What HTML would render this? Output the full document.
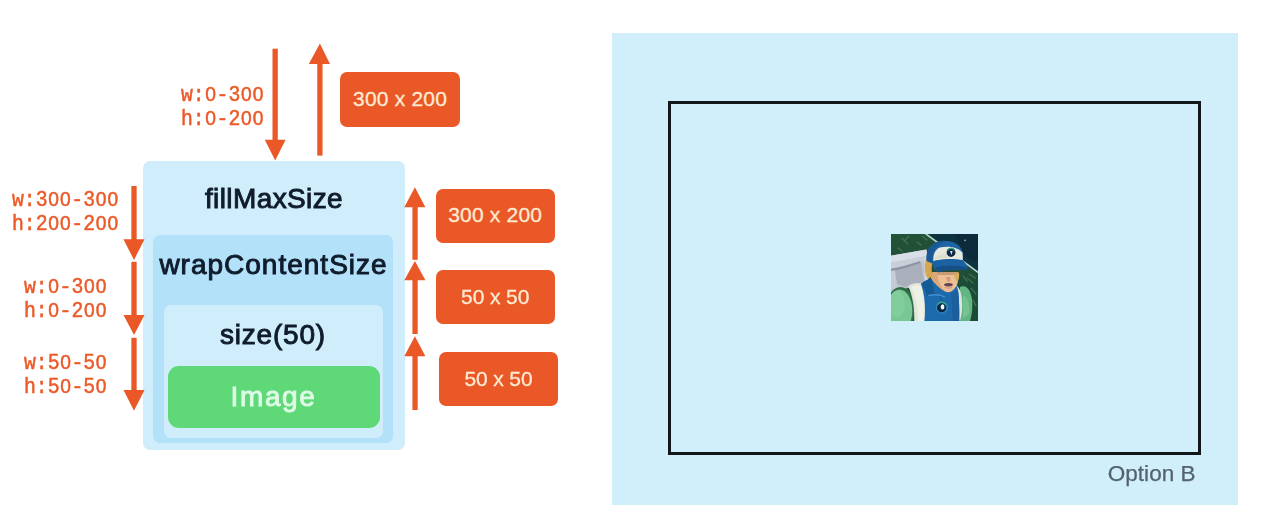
<!DOCTYPE html>
<html>
<head>
<meta charset="utf-8">
<style>
  html, body { margin: 0; padding: 0; }
  body { width: 1268px; height: 524px; background: #ffffff; position: relative; overflow: hidden;
         font-family: "Liberation Sans", sans-serif; }
  .abs { position: absolute; }
  .box { position: absolute; box-sizing: border-box; }
  .mono { position: absolute; font-family: "Liberation Mono", monospace; font-size: 21.5px; line-height: 24.3px;
          color: #ec5a29; white-space: pre; text-align: left; -webkit-text-stroke: 0.5px #ec5a29;
          transform: scaleX(0.92); transform-origin: 0 0; }
  .z { font-family: "Liberation Sans", sans-serif; display: inline-block; width: 12.9px; font-size: 20.9px; line-height: 1; text-align: center; vertical-align: baseline; }
  .lbl { position: absolute; font-family: "Liberation Sans", sans-serif; color: #101c2c; font-weight: normal; -webkit-text-stroke: 0.95px #101c2c;
         white-space: nowrap; text-align: center; }
  .obox { position: absolute; background: #ea5827; border-radius: 7px; color: #fdebd2;
          font-family: "Liberation Sans", sans-serif; font-size: 21px; letter-spacing: 0.2px; text-align: center; white-space: nowrap; -webkit-text-stroke: 0.3px #fdebd2; }
  svg { position: absolute; left: 0; top: 0; }
</style>
</head>
<body>
<div id="stage" style="position:absolute; left:0; top:0; width:1268px; height:524px; filter: blur(0.45px);">

<!-- ===== right panel ===== -->
<div class="box" id="panel" style="left:612.4px; top:33.3px; width:625.6px; height:471.6px; background:#d0effb;"></div>
<div class="box" id="frame" style="left:668px; top:101px; width:532.6px; height:354px; border:3.2px solid #14171a;"></div>
<div class="abs" id="optb" style="left:1107.7px; top:461px; width:92px; font-size:22.5px; letter-spacing:0.05px; line-height:26px; color:#53626e; -webkit-text-stroke:0.25px #53626e; white-space:nowrap;">Option B</div>

<!-- ===== nested boxes ===== -->
<div class="box" id="b1" style="left:142.8px; top:160.7px; width:261.8px; height:289px; background:#d0edfb; border-radius:7px;"></div>
<div class="box" id="b2" style="left:153.2px; top:235px; width:239.8px; height:208px; background:#b3e1f9; border-radius:7px;"></div>
<div class="box" id="b3" style="left:163.7px; top:305px; width:219.3px; height:133px; background:#d0edfb; border-radius:7px;"></div>
<div class="box" id="b4" style="left:167.6px; top:366px; width:212.4px; height:62px; background:#5fd878; border-radius:11px;"></div>

<div class="lbl" id="t1" style="left:143px; top:183px; width:262px; font-size:28px; letter-spacing:0.4px; line-height:32px;">fillMaxSize</div>
<div class="lbl" id="t2" style="left:153px; top:249px; width:241px; font-size:28px; letter-spacing:1.0px; line-height:32px;">wrapContentSize</div>
<div class="lbl" id="t3" style="left:163px; top:319px; width:220px; font-size:28px; letter-spacing:0.8px; line-height:32px;">size(50)</div>
<div class="lbl" id="t4" style="left:167px; top:381px; width:213px; font-size:28px; line-height:32px; color:#ddfbe6; font-weight:normal; -webkit-text-stroke:0.9px #ddfbe6; letter-spacing:1.6px;">Image</div>

<!-- ===== constraint labels ===== -->
<div class="mono" id="m1" style="left:180.5px; top:82.6px;">w:<span class="z">0</span>-3<span class="z">0</span><span class="z">0</span>
h:<span class="z">0</span>-2<span class="z">0</span><span class="z">0</span></div>
<div class="mono" id="m2" style="left:12.2px; top:187.8px;">w:3<span class="z">0</span><span class="z">0</span>-3<span class="z">0</span><span class="z">0</span>
h:2<span class="z">0</span><span class="z">0</span>-2<span class="z">0</span><span class="z">0</span></div>
<div class="mono" id="m3" style="left:24.3px; top:275.1px;">w:<span class="z">0</span>-3<span class="z">0</span><span class="z">0</span>
h:<span class="z">0</span>-2<span class="z">0</span><span class="z">0</span></div>
<div class="mono" id="m4" style="left:24.3px; top:350.9px;">w:5<span class="z">0</span>-5<span class="z">0</span>
h:5<span class="z">0</span>-5<span class="z">0</span></div>

<!-- ===== orange size boxes ===== -->
<div class="obox" id="o1" style="left:340.3px; top:72.3px; width:119.6px; height:54.4px; line-height:53.4px;">300 x 200</div>
<div class="obox" id="o2" style="left:435.5px; top:188.5px; width:119.4px; height:54.2px; line-height:52.6px;">300 x 200</div>
<div class="obox" id="o3" style="left:435.7px; top:270px; width:119px; height:54px; line-height:53.4px; letter-spacing:0; word-spacing:-0.3px;">50 x 50</div>
<div class="obox" id="o4" style="left:439px; top:351.7px; width:119.2px; height:54.2px; line-height:53px; letter-spacing:0; word-spacing:-0.3px;">50 x 50</div>

<!-- ===== arrows ===== -->
<svg id="arrows" width="1268" height="524" viewBox="0 0 1268 524">
  <g fill="#ea5827" stroke="none">
    <!-- top down arrow -->
    <rect x="272.50" y="48.7" width="5.3" height="93"/>
    <polygon points="264.8,139.8 285.6,139.8 275.2,160.6"/>
    <!-- top up arrow -->
    <rect x="317.25" y="62" width="5.3" height="93.6"/>
    <polygon points="308.8,64.1 330,64.1 319.9,43.6"/>
    <!-- left down arrows -->
    <rect x="131.35" y="186" width="5.3" height="55"/>
    <polygon points="123.4,239.3 144.5,239.3 134,259.9"/>
    <rect x="131.35" y="261.8" width="5.3" height="55"/>
    <polygon points="123.5,315 144.5,315 134,334.9"/>
    <rect x="131.35" y="337.8" width="5.3" height="54"/>
    <polygon points="123.5,389.9 144.5,389.9 134,410.7"/>
    <!-- right up arrows -->
    <rect x="412.40" y="205" width="5.3" height="54.8"/>
    <polygon points="404.3,207.2 425.4,207.2 414.9,187.3"/>
    <rect x="412.40" y="278" width="5.3" height="56"/>
    <polygon points="404.3,280.3 425.4,280.3 414.9,261"/>
    <rect x="412.40" y="354" width="5.3" height="56"/>
    <polygon points="404.3,356.2 425.4,356.2 414.9,336.3"/>
  </g>
</svg>

<!-- ===== avatar image ===== -->
<svg id="avatar" style="left:890.7px; top:233.7px;" width="87.7" height="87.8" viewBox="0 0 87.6 87.6">
  <defs>
    <filter id="bl" x="-5%" y="-5%" width="110%" height="110%"><feGaussianBlur stdDeviation="0.65"/></filter>
    <clipPath id="cp"><rect x="0" y="0" width="87.6" height="87.6"/></clipPath>
    <linearGradient id="gbg" x1="0" y1="0" x2="1" y2="1">
      <stop offset="0" stop-color="#245238"/><stop offset="1" stop-color="#1d4a36"/>
    </linearGradient>
  </defs>
  <rect width="87.6" height="87.6" fill="#1f4d38"/>
  <g clip-path="url(#cp)">
  <g filter="url(#bl)">
    <!-- background -->
    <rect x="-2" y="-2" width="92" height="92" fill="url(#gbg)"/>
    <polygon points="35,-2 90,-2 90,40" fill="#0d3340"/>
    <polygon points="62,-2 90,-2 90,30 74,22" fill="#0b2c3b"/>
    <!-- texture on green -->
    <g stroke="#5d8f68" stroke-width="1.2" opacity="0.55" stroke-linecap="round">
      <line x1="11" y1="4" x2="17" y2="10"/><line x1="18" y1="2" x2="13" y2="7"/>
      <line x1="7" y1="14" x2="11" y2="17"/><line x1="26" y1="8" x2="30" y2="11"/>
      <line x1="31" y1="2" x2="36" y2="6"/>
      <line x1="76" y1="44" x2="82" y2="49"/><line x1="80" y1="54" x2="85" y2="60"/>
      <line x1="72" y1="42" x2="76" y2="47"/><line x1="82" y1="66" x2="85" y2="72"/>
      <line x1="78" y1="40" x2="84" y2="44"/>
    </g>
    <!-- diagonal light streak -->
    <line x1="33" y1="-1.5" x2="90" y2="40.5" stroke="#b9d6d0" stroke-width="1.5"/>
    <circle cx="74" cy="6.3" r="0.9" fill="#8fb4b4"/>
    <!-- gray pack -->
    <polygon points="-2,21.8 35.4,15.4 38,30 36.5,50 20,53 -2,60" fill="#bdc3cd"/>
    <polygon points="-2,21.8 35.4,15.4 36,22 -2,29" fill="#d9dee7"/>
    <polygon points="-2,29 36,22 36.2,26 28.7,27.5 -2,35.5" fill="#c9cfd9"/>
    <path d="M3,37 C12,34 22,31 30,28.5 L33,48 L14,53 L6,50 Z" fill="#a9b0bb"/>
    <path d="M-2,35 C10,33.5 20,30 29,27 L29.4,28.8 C20,32 10,35.6 -2,37.4 Z" fill="#8c95a1"/>
    <polygon points="-2,37 4,36.5 6,52 -2,57" fill="#c6ccd6"/>
    <polygon points="33,24 36.4,23.5 37.2,46 34,47.5" fill="#d2d7e0"/>
    <!-- left sleeve -->
    <ellipse cx="9.5" cy="75" rx="14.5" ry="22" fill="#2f6d49"/>
    <ellipse cx="8.5" cy="76.5" rx="12.8" ry="21" fill="#79c893"/>
    <ellipse cx="6" cy="70" rx="8" ry="13" fill="#86d09e" opacity="0.7"/>
    <!-- fur collar left -->
    <path d="M17,52 C23,48 30,48 33,52 C35,62 35,76 34.5,90 L23,90 C24,76 22,62 17,52 Z" fill="#e1e6d9"/>
    <path d="M20,53 C25,51 29,51 31,53 C33,62 33,76 32.5,90 L27,90 C27.5,76 25,62 20,53 Z" fill="#eef1e6"/>
    <!-- right green sleeve & stripe -->
    <path d="M69,53 C75,50 80,56 81,66 C82,76 80,84 78,90 L66,90 Z" fill="#64b583"/>
    <path d="M72,62 C76,62 79,70 78,80 L72,84 Z" fill="#7bc796" opacity="0.8"/>
    <path d="M63.5,50 C68,52 70.5,58 71,68 C71.4,76 70.5,82 69,86 L66,86 C67.5,80 68,74 67.5,67 C67,59 65.5,54 62,51 Z" fill="#dbe8e2"/>
    <!-- blue vest -->
    <path d="M30,50 C33,47 37,45 40,45 L66,52 C68,60 68.5,72 68,90 L33,90 C35,76 34,62 30,50 Z" fill="#1f69ab"/>
    <path d="M30,50 C33,47 37,45 40,45 L44,60 L36,62 C35,57 33,53 30,50 Z" fill="#185a93"/>
    <path d="M60,60 L67,56 C68,66 68.5,76 68,90 L62,90 Z" fill="#1a5f9d"/>
    <path d="M37,61.5 C43,60 50,61 54,63" stroke="#3f8fd0" stroke-width="1.5" fill="none"/>
    <path d="M49,62 L52,68" stroke="#185a93" stroke-width="1.2" fill="none"/>
    <!-- badge -->
    <circle cx="50.9" cy="73.3" r="6.2" fill="#2a86b8"/>
    <circle cx="50.6" cy="73.6" r="4.6" fill="#0f2745"/>
    <ellipse cx="51.5" cy="72.8" rx="1.9" ry="2.6" fill="#eef5f0"/>
    <path d="M46.5,70.5 A5,5 0 0 1 55,70.5" stroke="#39a08f" stroke-width="1.4" fill="none"/>
    <!-- neck / face -->
    <path d="M41,38 L67,38 C68,44 67,50 64,54 C61,58 57,59 54,57.5 C48,54 43,49 40,44 Z" fill="#edbf96"/>
    <path d="M41,38 L47,38 C46,44 48,51 54,57 C48,54 43,49 40,44 Z" fill="#dca777"/>
    <path d="M55,43 L59,43 L59.5,47.5 L56,47.5 Z" fill="#d79b78"/>
    <ellipse cx="57.4" cy="50.6" rx="4.3" ry="1.7" fill="#5e4250"/>
    <path d="M53.5,52.5 C56,53.8 59,53.8 61.5,52.3 L61,54 C58.5,55 56,55 54,54 Z" fill="#d9958a"/>
    <!-- eyes shadow under brim -->
    <path d="M46,38 L68,38 L67,41 L47,41 Z" fill="#b98b62" opacity="0.7"/>
    <!-- hair -->
    <path d="M35,25 C33,32 33.5,40 37,45 L41.5,42 C40,37 40.5,31 42,27 Z" fill="#d7a64d"/>
    <path d="M62.5,40 L68,39 C68.5,43 67.5,46 66,48 C65,46 63.5,43 62.5,40 Z" fill="#d9ae58"/>
    <!-- cap dome -->
    <path d="M35.5,27 C34,16 41,7.5 52,6.8 C62,6.5 70,11 71.8,19 L72,27 L42,30 Z" fill="#1f66a8"/>
    <path d="M38,14 C43,8 50,6.5 56,7 C50,9 44,13 41.5,20 L41,28 L36,27 C35.3,22 36,17.5 38,14 Z" fill="#1a5896"/>
    <!-- cap white panel -->
    <path d="M42.3,27 C41.8,20 44.5,14.5 50,13.2 C58,11.6 67,13.4 71.4,18.5 L71.8,26 C62,24.6 50,25.4 42.3,27 Z" fill="#e6e9dd"/>
    <path d="M43,25 C46,21 52,19 58,19 L58,24 C52,24 47,24.6 43,26 Z" fill="#d6dcc9" opacity="0.7"/>
    <!-- cap logo -->
    <circle cx="60" cy="18.4" r="4.4" fill="#10294a"/>
    <path d="M56.3,16.5 A4.2,4.2 0 0 1 63.8,16.5" stroke="#3a9d86" stroke-width="1.3" fill="none"/>
    <path d="M59,17 L61.5,17 L60.4,21 Z" fill="#e8eef0"/>
    <!-- brim -->
    <path d="M41.2,27.6 C50,24.4 63,24.2 72,26.5 C75,29.5 77,33 77.3,36.5 C70,34.5 57,35.5 47,38.2 C43.5,36 41.5,32 41.2,27.6 Z" fill="#1d62a3"/>
    <path d="M44,33.5 C52,31 66,30.5 76.6,33.5 L77.3,36.5 C70,34.5 57,35.5 47,38.2 Z" fill="#184f87"/>
  </g>
  </g>
</svg>

</div>
</body>
</html>
